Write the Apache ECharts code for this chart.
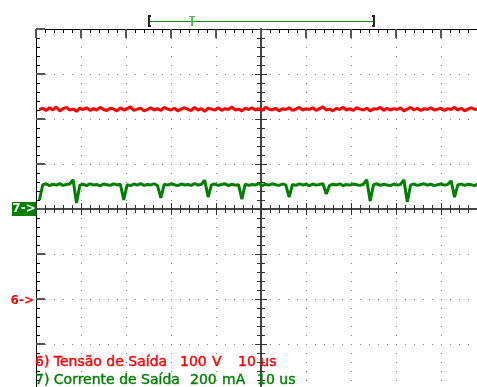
<!DOCTYPE html>
<html>
<head>
<meta charset="utf-8">
<script src="https://cdn.jsdelivr.net/npm/echarts@6/dist/echarts.min.js"></script>
<style>
html,body{margin:0;padding:0;background:#ffffff;}
#c{width:477px;height:387px;}
</style>
</head>
<body>
<div id="c"></div>
<script>
// ---- Channel 6: output voltage (V), one sample every 0.75 us ----
const ch6Volts = [
  421,424,419,425,420,427,418,423,426,420,422,417,424,421,425,419,423,420,426,421,
  419,424,422,418,425,420,423,427,419,422,424,418,421,425,420,423,419,426,422,420,
  424,418,422,425,421,419,426,420,423,417,424,422,420,425,419,423,421,427,420,422,
  418,424,421,425,420,423,419,426,422,420,424,418,423,421,425,419,422,426,420,423,
  421,425,419,423,427,420,422,418,424,421,426,420,423,419,425,422,420,424,418,423,
  422,426,419,424,420,423,421,425,418,422,426,420,424,419,423,421,425,420,422,424,
  419,423,421,426,420,424,418,422,425,421,423,420,424
];
// ---- Channel 7: output current (mA), same sample clock ----
const ch7MilliAmps = [
  40,108,112,104,110,106,113,105,109,111,130,27,
  106,110,104,112,107,109,103,111,108,105,112,107,110,40,
  108,104,111,106,113,105,109,107,112,104,49,
  110,106,112,108,104,111,107,109,105,113,106,110,128,53,
  107,111,105,109,112,104,110,106,108,44,
  111,105,109,107,113,104,110,106,112,108,105,111,107,53,
  109,105,112,107,110,104,111,106,109,113,67,
  105,110,107,112,104,109,106,111,108,105,110,130,35,
  108,112,105,110,107,104,111,106,109,130,31,
  107,111,105,109,112,106,110,104,108,111,106,109,125,53,
  107,111,105,110,108,104,112,106,109
];
const sampleStepUs = 0.75;
const timePerDivUs = 10;
const ch6VoltsPerDiv = 100;
const ch7MilliAmpsPerDiv = 200;
const ch6ZeroDiv = -2;
const ch7ZeroDiv = 0;
const divsX = [-5, 5];
const divsY = [-4, 4];
const triggerWindowUs = [25.1, 75.1];
const triggerPointUs = 34.7;
const ch6Legend = ["6) Tensão de Saída", "100", "V", "10 us"];
const ch7Legend = ["7) Corrente de Saída", "200", "mA", "10 us"];

const RED = '#ff0000';
const GREEN = '#008000';

const timeOf = (i) => (i + 1) * sampleStepUs;
const ch6Data = ch6Volts.map((v, i) => [timeOf(i), v]);
const ch7Data = ch7MilliAmps.map((v, i) => [timeOf(i), v]);

const dotted = {show: true, lineStyle: {color: '#808080', width: 1, type: [1, 8]}};
function frameAxis(pos) {
  return {
    type: 'value', min: pos === 'top' ? divsX[0] : divsY[0], max: pos === 'top' ? divsX[1] : divsY[1],
    interval: 1, position: pos,
    axisLine: {show: true, onZero: false, lineStyle: {color: '#000', width: 1}},
    axisTick: {show: true, inside: true, length: 9, lineStyle: {color: '#555', width: 2}},
    minorTick: {show: true, splitNumber: 5, length: 4, lineStyle: {color: '#000', width: 1}},
    axisLabel: {show: false},
    splitLine: dotted
  };
}
function centerAxis(isX, inside) {
  return {
    type: 'value', min: isX ? divsX[0] : divsY[0], max: isX ? divsX[1] : divsY[1],
    interval: 1, position: isX ? 'bottom' : 'left',
    axisLine: {show: true, onZero: true, onZeroAxisIndex: 0, lineStyle: {color: '#444', width: 2}},
    axisTick: {show: true, inside: inside, length: 6, lineStyle: {color: '#333', width: 1}},
    minorTick: {show: true, splitNumber: 5, length: 4, lineStyle: {color: '#333', width: 1}},
    axisLabel: {show: false},
    splitLine: {show: false}
  };
}

const chart = echarts.init(document.getElementById('c'), null, {renderer: 'canvas'});
const option = {
  animation: false,
  backgroundColor: '#ffffff',
  grid: {left: 36, top: 29, width: 450, height: 360, containLabel: false, outerBoundsMode: 'none'},
  xAxis: [
    frameAxis('top'),
    centerAxis(true, false),
    centerAxis(true, true),
    {type: 'value', show: false, position: 'bottom', min: 0, max: timePerDivUs * (divsX[1] - divsX[0]),
     axisLine: {onZero: false}}
  ],
  yAxis: [
    frameAxis('left'),
    centerAxis(false, false),
    centerAxis(false, true),
    {type: 'value', show: false, position: 'left',
     min: (divsY[0] - ch6ZeroDiv) * ch6VoltsPerDiv, max: (divsY[1] - ch6ZeroDiv) * ch6VoltsPerDiv,
     axisLine: {onZero: false}},
    {type: 'value', show: false, position: 'left',
     min: (divsY[0] - ch7ZeroDiv) * ch7MilliAmpsPerDiv, max: (divsY[1] - ch7ZeroDiv) * ch7MilliAmpsPerDiv,
     axisLine: {onZero: false}}
  ],
  series: [
    {type: 'line', name: 'ch6', xAxisIndex: 3, yAxisIndex: 3, data: ch6Data, showSymbol: false,
     silent: true, lineStyle: {color: RED, width: 3}, z: 5},
    {type: 'line', name: 'ch7', xAxisIndex: 3, yAxisIndex: 4, data: ch7Data, showSymbol: false,
     silent: true, lineStyle: {color: GREEN, width: 3}, z: 5}
  ]
};
chart.setOption(option);

const y6 = chart.convertToPixel({yAxisIndex: 3}, 0);
const y7 = chart.convertToPixel({yAxisIndex: 4}, 0);
const xa = chart.convertToPixel({xAxisIndex: 3}, triggerWindowUs[0]);
const xb = chart.convertToPixel({xAxisIndex: 3}, triggerWindowUs[1]);
const xt = chart.convertToPixel({xAxisIndex: 3}, triggerPointUs);
const font = '14px "DejaVu Sans", sans-serif';
const seg = (txt, x, y, color) => ({type: 'text', x: x, y: y, z: 20,
  style: {text: txt, fill: color, stroke: color, lineWidth: 0.4, font: font, verticalAlign: 'middle'}});
const barY = 21.5;
chart.setOption({
  graphic: [
    {type: 'line', z: 20, shape: {x1: xa, y1: barY, x2: xb, y2: barY}, style: {stroke: '#228b22', lineWidth: 1}},
    {type: 'polyline', z: 21, shape: {points: [[xa + 2, 16], [xa, 16], [xa, 26], [xa + 2, 26]]}, style: {stroke: '#222', lineWidth: 2, fill: null}},
    {type: 'polyline', z: 21, shape: {points: [[xb - 2, 16], [xb, 16], [xb, 26], [xb - 2, 26]]}, style: {stroke: '#222', lineWidth: 2, fill: null}},
    {type: 'line', z: 21, shape: {x1: xt - 3, y1: 16.5, x2: xt + 3, y2: 16.5}, style: {stroke: '#44bb44', lineWidth: 1}},
    {type: 'line', z: 21, shape: {x1: xt, y1: 16, x2: xt, y2: 26}, style: {stroke: '#44bb44', lineWidth: 2}},
    {type: 'rect', z: 20, shape: {x: 12, y: y7 - 7, width: 24, height: 14}, style: {fill: GREEN}},
    {type: 'text', x: 24, y: y7, z: 21, style: {text: '7->', fill: '#fff', font: 'bold 12px "DejaVu Sans", sans-serif', align: 'center', verticalAlign: 'middle'}},
    {type: 'text', x: 34, y: y6 + 2, z: 21, style: {text: '6->', fill: RED, font: 'bold 12px "DejaVu Sans", sans-serif', align: 'right', verticalAlign: 'middle'}},
    seg(ch6Legend[0], 35, 362, RED), seg(ch6Legend[1], 180, 362, RED), seg(ch6Legend[2], 212, 362, RED), seg(ch6Legend[3], 238, 362, RED),
    seg(ch7Legend[0], 35, 380, GREEN), seg(ch7Legend[1], 190, 380, GREEN), seg(ch7Legend[2], 222, 380, GREEN), seg(ch7Legend[3], 257, 380, GREEN)
  ]
});
</script>
</body>
</html>
